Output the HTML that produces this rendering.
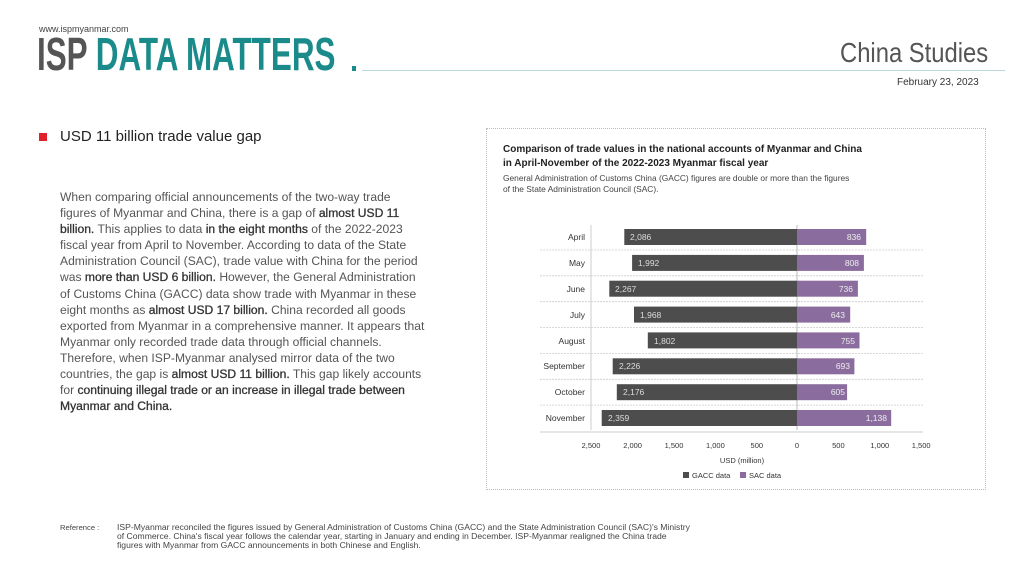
<!DOCTYPE html>
<html><head><meta charset="utf-8"><style>
*{margin:0;padding:0;box-sizing:border-box}
body{width:1024px;height:576px;background:#fff;position:relative;overflow:hidden;font-family:"Liberation Sans",sans-serif;color:#333}
.a{position:absolute;white-space:nowrap}
p.t{position:absolute;left:60px;top:189px;font-size:12.1px;line-height:16.1px;color:#555;white-space:nowrap}
p.t b{color:#333;font-weight:normal;-webkit-text-stroke:0.3px #333}
</style></head><body>
<div class="a" style="left:39px;top:24px;font-size:9px;color:#444">www.ispmyanmar.com</div>
<div class="a" style="left:37px;top:30px;font-size:46px;line-height:48px;font-weight:bold;font-family:'Liberation Sans Narrow','Liberation Sans',sans-serif;transform:scaleX(0.683);transform-origin:left"><span style="color:#555">ISP</span><span style="color:#1a8a8a"> DATA MATTERS</span></div>
<div class="a" style="left:352px;top:66px;width:4px;height:5px;background:#1a8a8a"></div>
<div class="a" style="left:362px;top:70px;width:643px;height:1px;background:#b9d7dc"></div>
<div class="a" style="left:840px;top:37px;font-size:28px;color:#555;font-family:'Liberation Sans Narrow',sans-serif;transform:scaleX(0.85);transform-origin:left;font-weight:300">China Studies</div>
<div class="a" style="left:897px;top:77px;font-size:10px;color:#333">February 23, 2023</div>
<div class="a" style="left:39px;top:133px;width:8px;height:8px;background:#e0202a"></div>
<div class="a" style="left:60px;top:128px;font-size:15px;color:#222">USD 11 billion trade value gap</div>
<p class="t">When comparing official announcements of the two-way trade<br>figures of Myanmar and China, there is a gap of <b>almost USD 11</b><br><b>billion.</b> This applies to data <b>in the eight months</b> of the 2022-2023<br>fiscal year from April to November. According to data of the State<br>Administration Council (SAC), trade value with China for the period<br>was <b>more than USD 6 billion.</b> However, the General Administration<br>of Customs China (GACC) data show trade with Myanmar in these<br>eight months as <b>almost USD 17 billion.</b> China recorded all goods<br>exported from Myanmar in a comprehensive manner. It appears that<br>Myanmar only recorded trade data through official channels.<br>Therefore, when ISP-Myanmar analysed mirror data of the two<br>countries, the gap is <b>almost USD 11 billion.</b> This gap likely accounts<br>for <b>continuing illegal trade or an increase in illegal trade between</b><br><b>Myanmar and China.</b></p>
<div class="a" style="left:486px;top:128px;width:500px;height:362px;border:1px dotted #bbb"></div>
<div class="a" style="left:503px;top:143px;font-size:10px;font-weight:bold;color:#222;line-height:14px">Comparison of trade values in the national accounts of Myanmar and China<br>in April-November of the 2022-2023 Myanmar fiscal year</div>
<div class="a" style="left:503px;top:173px;font-size:8.4px;color:#444;line-height:10.5px">General Administration of Customs China (GACC) figures are double or more than the figures<br>of the State Administration Council (SAC).</div>
<svg class="a" style="left:0;top:0" width="1024" height="576" font-family="Liberation Sans,sans-serif">
<g stroke="#ccc" stroke-dasharray="2,1" stroke-width="0.8">
<line x1="540" x2="923" y1="250" y2="250"/><line x1="540" x2="923" y1="275.8" y2="275.8"/><line x1="540" x2="923" y1="301.7" y2="301.7"/><line x1="540" x2="923" y1="327.5" y2="327.5"/><line x1="540" x2="923" y1="353.4" y2="353.4"/><line x1="540" x2="923" y1="379.3" y2="379.3"/><line x1="540" x2="923" y1="405.1" y2="405.1"/></g>
<line x1="591" x2="591" y1="225" y2="430" stroke="#ccc"/>
<line x1="797" x2="797" y1="225" y2="430" stroke="#bbb"/>
<line x1="540" x2="923" y1="432" y2="432" stroke="#ccc"/>
<g fill="#4d4d4d">
<rect x="624.3" y="229" width="172.7" height="16"/><rect x="632.1" y="254.9" width="164.9" height="16"/><rect x="609.3" y="280.7" width="187.7" height="16"/><rect x="634" y="306.6" width="163" height="16"/><rect x="647.8" y="332.4" width="149.2" height="16"/><rect x="612.7" y="358.3" width="184.3" height="16"/><rect x="616.8" y="384.2" width="180.2" height="16"/><rect x="601.7" y="410" width="195.3" height="16"/></g>
<g fill="#8a6d9e">
<rect x="797" y="229" width="69.2" height="16"/><rect x="797" y="254.9" width="66.9" height="16"/><rect x="797" y="280.7" width="60.9" height="16"/><rect x="797" y="306.6" width="53.2" height="16"/><rect x="797" y="332.4" width="62.5" height="16"/><rect x="797" y="358.3" width="57.4" height="16"/><rect x="797" y="384.2" width="50.1" height="16"/><rect x="797" y="410" width="94.2" height="16"/></g>
<g fill="#ddd" font-size="8.5">
<text x="630" y="240">2,086</text><text x="638" y="266">1,992</text><text x="615" y="292">2,267</text><text x="640" y="318">1,968</text><text x="654" y="344">1,802</text><text x="619" y="369">2,226</text><text x="623" y="395">2,176</text><text x="608" y="421">2,359</text></g>
<g fill="#eee" font-size="8.5" text-anchor="end">
<text x="861" y="240">836</text><text x="859" y="266">808</text><text x="853" y="292">736</text><text x="845" y="318">643</text><text x="855" y="344">755</text><text x="850" y="369">693</text><text x="845" y="395">605</text><text x="887" y="421">1,138</text></g>
<g fill="#333" font-size="8.5" text-anchor="end">
<text x="585" y="240">April</text><text x="585" y="266">May</text><text x="585" y="292">June</text><text x="585" y="318">July</text><text x="585" y="344">August</text><text x="585" y="369">September</text><text x="585" y="395">October</text><text x="585" y="421">November</text></g>
<g fill="#333" font-size="7.5" text-anchor="middle">
<text x="591" y="448">2,500</text><text x="632.6" y="448">2,000</text><text x="674" y="448">1,500</text><text x="715.4" y="448">1,000</text><text x="756.8" y="448">500</text><text x="797" y="448">0</text><text x="838.4" y="448">500</text><text x="879.8" y="448">1,000</text><text x="921.2" y="448">1,500</text>
<text x="742" y="463" font-size="7.5">USD (million)</text></g>
<rect x="683" y="472" width="6" height="6" fill="#4d4d4d"/><text x="692" y="478" font-size="7.5" fill="#333">GACC data</text>
<rect x="740" y="472" width="6" height="6" fill="#8a6d9e"/><text x="749" y="478" font-size="7.5" fill="#333">SAC data</text>
</svg>
<div class="a" style="left:60px;top:523px;font-size:7.6px;color:#444">Reference :</div>
<div class="a" style="left:117px;top:523px;font-size:8.6px;color:#444;line-height:8.8px">ISP-Myanmar reconciled the figures issued by General Administration of Customs China (GACC) and the State Administration Council (SAC)'s Ministry<br>of Commerce. China's fiscal year follows the calendar year, starting in January and ending in December. ISP-Myanmar realigned the China trade<br>figures with Myanmar from GACC announcements in both Chinese and English.</div>
</body></html>
